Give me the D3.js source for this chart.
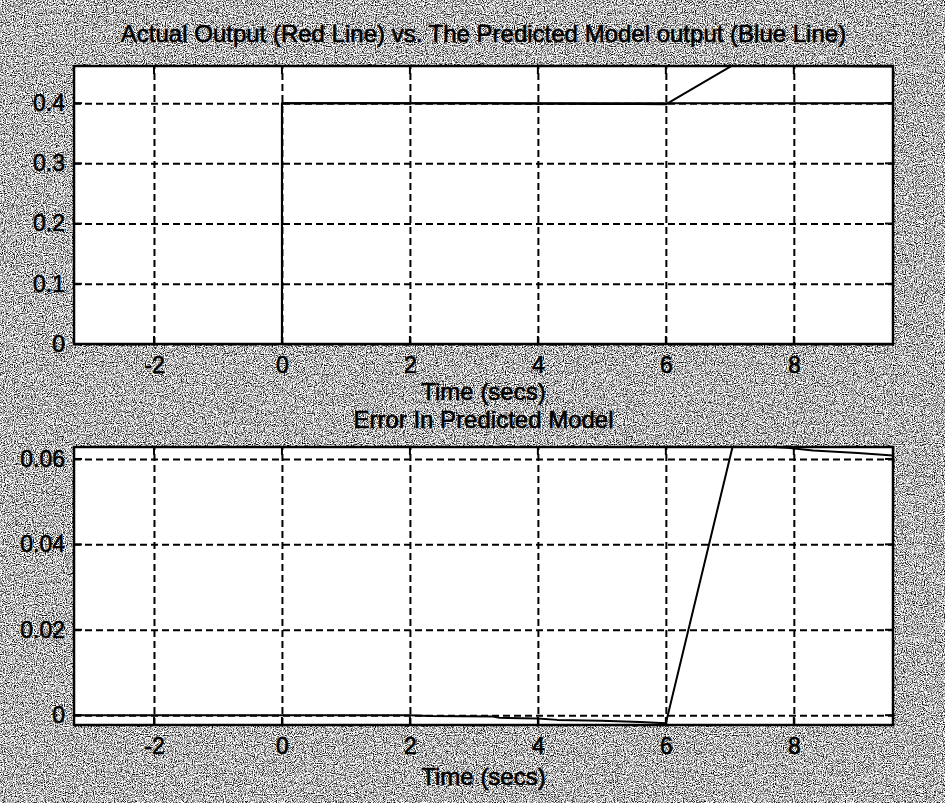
<!DOCTYPE html>
<html>
<head>
<meta charset="utf-8">
<script src="https://cdn.jsdelivr.net/npm/d3@7"></script>
<style>
  html, body { margin: 0; padding: 0; background: #b0b0b0; }
  svg { display: block; }
  text { font-family: "Liberation Sans", Arial, Helvetica, sans-serif; fill: #000; stroke: #000; stroke-width: 0.6px; }
</style>
</head>
<body>
<svg id="chart" width="945" height="803"></svg>
<script>
// ---- data ---------------------------------------------------------------
const xTicks = [-2, 0, 2, 4, 6, 8];
const xTickLabels = ["-2", "0", "2", "4", "6", "8"];

const topYTicks = [0, 0.1, 0.2, 0.3, 0.4];
const topYTickLabels = ["0", "0.1", "0.2", "0.3", "0.4"];
const errYTicks = [0, 0.02, 0.04, 0.06];
const errYTickLabels = ["0", "0.02", "0.04", "0.06"];

// actual plant output: unit step of height 0.4 at t = 0
const actualTime = [-3.25, 0, 0, 9.55];
const actualOutput = [0, 0, 0.4, 0.4];

// predicted model output
const modelTime = [-3.25, 0, 0, 2.0, 2.3, 3.3, 3.4, 4.0, 4.3, 5.0, 5.6, 6.0, 7.05, 7.5, 7.9, 8.3, 9.0, 9.55];
const modelOutput = [0, 0, 0.4, 0.4, 0.3998, 0.3997, 0.3994, 0.3992, 0.3989, 0.3987, 0.3984, 0.3981, 0.4633, 0.4629, 0.4626, 0.4620, 0.4614, 0.4608];

// prediction error (model - actual)
const errorTime = [-3.25, 0, 2.0, 2.3, 3.3, 3.4, 4.0, 4.3, 5.0, 5.6, 6.0, 7.05, 7.5, 7.9, 8.3, 9.0, 9.55];
const errorValue = [0, 0, 0, -0.0002, -0.0003, -0.0006, -0.0008, -0.0011, -0.0013, -0.0016, -0.0019, 0.0633, 0.0629, 0.0626, 0.0620, 0.0614, 0.0608];

// ---- layout -------------------------------------------------------------
const W = 945, H = 803;
const plotLeft = 74, plotRight = 893;
const xDomain = [-3.25, 9.55];

const svg = d3.select("#chart");
const defs = svg.append("defs");

// grainy scanned-paper backdrop
const grain = defs.append("filter")
  .attr("id", "grain")
  .attr("filterUnits", "userSpaceOnUse")
  .attr("x", 0).attr("y", 0).attr("width", W).attr("height", H)
  .attr("color-interpolation-filters", "sRGB");
grain.append("feTurbulence")
  .attr("type", "fractalNoise")
  .attr("baseFrequency", 0.9)
  .attr("numOctaves", 2)
  .attr("seed", 11);
grain.append("feColorMatrix")
  .attr("type", "matrix")
  .attr("values", "1 0 0 0 0  1 0 0 0 0  1 0 0 0 0  0 0 0 0 1");
const ct = grain.append("feComponentTransfer");
["feFuncR", "feFuncG", "feFuncB"].forEach(n =>
  ct.append(n).attr("type", "linear").attr("slope", 2.8).attr("intercept", -0.68));

svg.append("rect")
  .attr("width", W).attr("height", H)
  .attr("fill", "#999")
  .attr("filter", "url(#grain)");

const x = d3.scaleLinear().domain(xDomain).range([plotLeft, plotRight]);

const panels = [
  {
    id: "out",
    top: 66, bottom: 344,
    yDomain: [0, 0.4617],
    yTicks: topYTicks, yTickLabels: topYTickLabels,
    title: "Actual Output (Red Line) vs. The Predicted Model output (Blue Line)",
    titleY: 42,
    xLabelY: 400,
    series: [[actualTime, actualOutput], [modelTime, modelOutput]]
  },
  {
    id: "err",
    top: 447, bottom: 725,
    yDomain: [-0.0023, 0.0628],
    yTicks: errYTicks, yTickLabels: errYTickLabels,
    title: "Error In Predicted Model",
    titleY: 428,
    xLabelY: 785,
    series: [[errorTime, errorValue]]
  }
];

panels.forEach(p => {
  const h = p.bottom - p.top;
  const w = plotRight - plotLeft;
  const y = d3.scaleLinear().domain(p.yDomain).range([p.bottom, p.top]);
  const g = svg.append("g");

  // white plotting area
  g.append("rect")
    .attr("x", plotLeft).attr("y", p.top)
    .attr("width", w).attr("height", h)
    .attr("fill", "#fff");

  defs.append("clipPath").attr("id", "clip-" + p.id)
    .append("rect")
    .attr("x", plotLeft).attr("y", p.top)
    .attr("width", w).attr("height", h);

  // dashed grid
  const gx = g.append("g")
    .attr("transform", `translate(0,${p.bottom})`)
    .call(d3.axisBottom(x).tickValues(xTicks).tickSize(-h).tickFormat(""));
  const gy = g.append("g")
    .attr("transform", `translate(${plotLeft},0)`)
    .call(d3.axisLeft(y).tickValues(p.yTicks).tickSize(-w).tickFormat(""));
  [gx, gy].forEach(a => {
    a.select(".domain").remove();
    a.selectAll(".tick line")
      .attr("stroke", "#000")
      .attr("stroke-width", 2)
      .attr("stroke-dasharray", "7,4");
  });

  // inward tick marks on all four sides
  const tl = 8;
  const tk = g.append("g").attr("stroke", "#000").attr("stroke-width", 2);
  xTicks.forEach(t => {
    tk.append("line").attr("x1", x(t)).attr("x2", x(t)).attr("y1", p.bottom).attr("y2", p.bottom - tl);
    tk.append("line").attr("x1", x(t)).attr("x2", x(t)).attr("y1", p.top).attr("y2", p.top + tl);
  });
  p.yTicks.forEach(t => {
    tk.append("line").attr("x1", plotLeft).attr("x2", plotLeft + tl).attr("y1", y(t)).attr("y2", y(t));
    tk.append("line").attr("x1", plotRight).attr("x2", plotRight - tl).attr("y1", y(t)).attr("y2", y(t));
  });

  // data lines
  const line = d3.line().x(d => x(d[0])).y(d => y(d[1]));
  p.series.forEach(([ts, vs]) => {
    g.append("path")
      .datum(ts.map((t, i) => [t, vs[i]]))
      .attr("clip-path", `url(#clip-${p.id})`)
      .attr("fill", "none")
      .attr("stroke", "#000")
      .attr("stroke-width", 2)
      .attr("stroke-linejoin", "round")
      .attr("d", line);
  });

  // axes box
  g.append("rect")
    .attr("x", plotLeft).attr("y", p.top)
    .attr("width", w).attr("height", h)
    .attr("fill", "none")
    .attr("stroke", "#000")
    .attr("stroke-width", 2.5);

  // tick labels
  const ax = g.append("g")
    .attr("transform", `translate(0,${p.bottom})`)
    .call(d3.axisBottom(x).tickValues(xTicks).tickSize(0).tickPadding(13)
      .tickFormat((d, i) => xTickLabels[i]));
  const ay = g.append("g")
    .attr("transform", `translate(${plotLeft},0)`)
    .call(d3.axisLeft(y).tickValues(p.yTicks).tickSize(0).tickPadding(9)
      .tickFormat((d, i) => p.yTickLabels[i]));
  [ax, ay].forEach(a => {
    a.select(".domain").remove();
    a.selectAll("text").attr("font-size", 23).attr("fill", "#000")
      .attr("font-family", '"Liberation Sans", Arial, sans-serif');
  });

  // x-axis label
  g.append("text")
    .attr("x", (plotLeft + plotRight) / 2)
    .attr("y", p.xLabelY)
    .attr("text-anchor", "middle")
    .attr("font-size", 24)
    .text("Time (secs)");

  // panel title
  g.append("text")
    .attr("x", (plotLeft + plotRight) / 2)
    .attr("y", p.titleY)
    .attr("text-anchor", "middle")
    .attr("font-size", 24)
    .text(p.title);
});
</script>
</body>
</html>
